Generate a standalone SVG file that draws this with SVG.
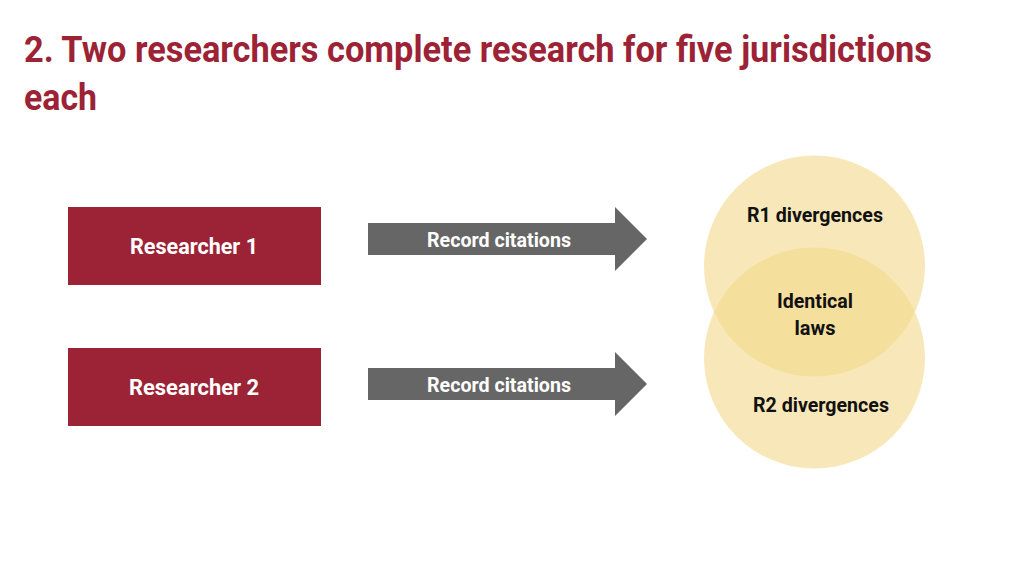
<svg xmlns="http://www.w3.org/2000/svg" width="1024" height="576" viewBox="0 0 1024 576">
<style>
text{font-family:Roboto,"Liberation Sans",sans-serif;font-weight:bold}
.t{fill:#9b2335;font-size:36px}
.box{fill:#9b2335}
.bl{fill:#fff;font-size:22px;text-anchor:middle}
.arr{fill:#666}
.al{fill:#fff;font-size:20px;text-anchor:middle}
.c{fill:#f3d98a;opacity:0.6}
.vl{fill:#111;font-size:20px;text-anchor:middle}
</style>
<rect width="1024" height="576" fill="#fff"/>
<text class="t" x="24" y="62" textLength="908" lengthAdjust="spacingAndGlyphs">2. Two researchers complete research for five jurisdictions</text>
<text class="t" x="24" y="110" textLength="73" lengthAdjust="spacingAndGlyphs">each</text>
<g id="researcher1"><rect class="box" x="68" y="207" width="253" height="78"/><text class="bl" x="194" y="254" textLength="128" lengthAdjust="spacingAndGlyphs">Researcher 1</text></g>
<g id="researcher2"><rect class="box" x="68" y="348" width="253" height="78"/><text class="bl" x="194" y="395" textLength="130" lengthAdjust="spacingAndGlyphs">Researcher 2</text></g>
<g id="connectors">
<polygon class="arr" points="368,223 615,223 615,207 647,239 615,271 615,255 368,255"/>
<text class="al" x="499" y="247" textLength="144" lengthAdjust="spacingAndGlyphs">Record citations</text>
<polygon class="arr" points="368,368 615,368 615,352 647,384 615,416 615,400 368,400"/>
<text class="al" x="499" y="392" textLength="144" lengthAdjust="spacingAndGlyphs">Record citations</text>
</g>
<g id="venn">
<circle class="c" cx="814.5" cy="266" r="110.5"/>
<circle class="c" cx="814.5" cy="358" r="110.5"/>
<text class="vl" x="815" y="222" textLength="136" lengthAdjust="spacingAndGlyphs">R1 divergences</text>
<text class="vl" x="815" y="308" textLength="76" lengthAdjust="spacingAndGlyphs">Identical</text>
<text class="vl" x="815" y="335">laws</text>
<text class="vl" x="821" y="412" textLength="136" lengthAdjust="spacingAndGlyphs">R2 divergences</text>
</g>
</svg>
